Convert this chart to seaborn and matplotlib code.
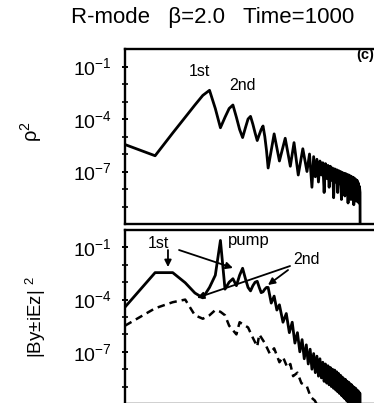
import numpy as np
import pandas as pd
import matplotlib
matplotlib.use("Agg")
import matplotlib.pyplot as plt
import seaborn as sns
from matplotlib.ticker import FixedLocator, NullFormatter

title = "R-mode   \u03b2=2.0   Time=1000"

# density fluctuation spectrum: mode number and log10(rho^2)
rho_k = [1, 2, 3, 4, 5, 6, 7, 8, 9, 10, 11, 12, 13, 14, 15, 16, 17, 18, 19, 20,
         21, 22, 23, 24, 25, 26, 27, 31, 35, 40, 45, 49, 54, 60, 66, 70, 74,
         77, 80, 83, 86, 89, 92, 95, 98, 101, 104, 107, 110, 113, 116, 119, 122,
         125, 128, 131, 134, 137, 140, 143, 146, 149, 152, 155, 158, 161, 164,
         167, 170, 173, 176, 179, 182, 185, 188, 191, 194, 197, 200, 203, 206,
         209, 212, 215, 218, 221, 224, 225]
rho_log = [-5.46, -6.1, -4.8, -3.9, -3.2, -2.65, -2.36, -3.4, -4.5, -3.9, -3.4,
           -3.2, -3.9, -4.6, -5.06, -4.5, -4.0, -3.85, -4.3, -4.8, -5.23, -4.9,
           -4.6, -4.4, -5.0, -5.8, -6.8, -4.85, -6.4, -5.1, -6.7, -5.35, -7.2,
           -5.7, -7.0, -6.0, -7.9,
           -6.15, -7.3, -6.3, -7.6, -6.4, -7.2, -6.5, -8.2, -6.55, -7.4, -6.65,
           -7.9, -6.7, -7.5, -6.8, -8.5, -6.85, -7.6, -6.9, -8.2, -6.95, -7.7,
           -7.0, -8.6, -7.05, -7.8, -7.1, -8.4, -7.12, -7.9, -7.17, -8.8, -7.2,
           -8.0, -7.25, -8.6, -7.3, -8.1, -7.33, -8.9, -7.38, -8.2, -7.45, -8.7,
           -7.5, -8.3, -7.65, -8.8, -7.85, -8.2, -14.0]

# transverse field spectrum |By +/- iEz|^2, two polarisations
fld_k = [1, 2, 3, 4, 5, 6, 7, 8, 9, 10, 11, 12, 13, 14, 15, 16, 17, 18, 19, 20,
         21, 22, 23, 24, 25, 26, 27, 29, 31, 33, 35, 38, 41, 44, 47, 50, 53, 56,
         59, 62, 65, 68, 71, 74, 77, 80, 83, 86, 89, 92, 95, 98, 101, 104, 107,
         110, 113, 116, 119, 122, 125, 128, 131, 134, 137, 140, 143, 146, 149,
         152, 155, 158, 161, 164, 167, 170, 173, 176, 179, 182, 185, 188, 191,
         194, 197, 200, 203, 206, 209, 212, 215, 218, 221, 224, 225]
fld_log = [-4.43, -2.45, -2.45, -3.03, -3.62, -3.9, -3.3, -2.6, -0.6, -3.4, -3.0,
           -2.8, -3.2, -2.6, -2.2, -2.8, -3.3, -3.5, -3.2, -3.0, -2.95, -3.3,
           -3.6, -3.55, -3.4, -3.3, -3.3, -4.2, -3.8, -4.6, -4.3, -5.3, -4.8,
           -5.9, -5.3, -6.5, -5.9, -7.0, -6.3, -7.4, -6.6, -7.7, -6.85, -8.0,
           -7.1, -8.2, -7.25, -8.4, -7.4, -8.5, -7.6, -8.7, -7.7, -8.8, -7.8,
           -8.9, -7.9, -9.0, -8.0, -9.1, -8.05, -9.2, -8.15, -9.3, -8.25, -9.4,
           -8.35, -9.5, -8.45, -9.6, -8.55, -9.7, -8.6, -9.8, -8.7, -9.9, -8.75,
           -10.0, -8.85, -10.1, -8.9, -10.2, -9.0, -10.3, -9.05, -10.4, -9.1,
           -10.5, -9.2, -10.6, -9.25, -10.7, -9.35, -9.4, -14.0]

alt_k = [1, 2, 3, 4, 5, 6, 7, 8, 9, 10, 11, 13, 14, 17, 19, 21, 22, 25, 28, 31,
         35, 38, 42, 45, 48, 53, 58, 66, 72, 79, 88, 100]
alt_log = [-5.5, -4.5, -4.15, -4.0, -4.9, -5.1, -4.9, -4.6, -4.7, -4.9, -5.5,
           -6.0, -5.3, -5.6, -6.2, -6.7, -6.0, -6.5, -7.1, -6.8, -7.6, -7.3,
           -7.9, -7.7, -8.4, -8.2, -8.8, -9.0, -9.6, -9.8, -10.3, -10.8]

rho = pd.DataFrame({"k": rho_k, "power": 10.0 ** np.array(rho_log)})
fld = pd.DataFrame({"k": fld_k, "power": 10.0 ** np.array(fld_log)})
alt = pd.DataFrame({"k": alt_k, "power": 10.0 ** np.array(alt_log)})

sns.set_theme(style="ticks")
plt.rcParams["font.family"] = ["Liberation Sans", "DejaVu Sans"]
plt.rcParams["mathtext.default"] = "regular"
plt.rcParams["axes.linewidth"] = 1.6
for key in ("text.color", "axes.labelcolor", "xtick.color", "ytick.color",
            "axes.edgecolor"):
    plt.rcParams[key] = "black"

W, H = 374, 403
fig = plt.figure(figsize=(W / 100, H / 100), dpi=100)
fig.patch.set_facecolor("white")


def px_axes(left, top, right, bottom):
    return fig.add_axes([left / W, 1 - bottom / H, (right - left) / W, (bottom - top) / H])


ax1 = px_axes(125, 49, 381, 224)
ax2 = px_axes(125, 230, 381, 404)

for ax in (ax1, ax2):
    ax.set_xscale("log")
    ax.set_yscale("log")
    ax.set_xlim(1, 363)
    ax.set_ylim(1e-10, 1)
    ax.yaxis.set_major_locator(FixedLocator([1e-1, 1e-4, 1e-7]))
    ax.yaxis.set_minor_locator(FixedLocator([1e-2, 1e-3, 1e-5, 1e-6, 1e-8, 1e-9]))
    ax.yaxis.set_minor_formatter(NullFormatter())
    ax.tick_params(axis="y", which="major", direction="inout", length=5, width=1.4,
                   labelsize=14, pad=7)
    ax.tick_params(axis="y", which="minor", direction="inout", length=4, width=1.2)
    ax.tick_params(axis="x", which="both", length=0, labelbottom=False)
    for s in ax.spines.values():
        s.set_linewidth(1.7)

sns.lineplot(data=rho, x="k", y="power", ax=ax1, color="black", lw=2.0,
             estimator=None, sort=False)
sns.lineplot(data=fld, x="k", y="power", ax=ax2, color="black", lw=2.0,
             estimator=None, sort=False)
sns.lineplot(data=alt, x="k", y="power", ax=ax2, color="black", lw=1.8,
             estimator=None, sort=False, linestyle=(0, (3.0, 2.0)))

for ax in (ax1, ax2):
    ax.set_xlabel("")
    ax.set_ylabel("")

ax1.set_ylabel("\u03c1$^2$", fontsize=14.5)
ax1.yaxis.set_label_coords(-0.315, 0.53)
ax2.set_ylabel("|By\u00b1iEz| $^2$", fontsize=13.5)
ax2.yaxis.set_label_coords(-0.3, 0.5)

fig.text(213 / W, 1 - 18 / H, title, ha="center", va="center", fontsize=16)

ax1.text(5.5, 10 ** -1.26, "1st", ha="center", va="center", fontsize=11.5)
ax1.text(14.8, 10 ** -2.07, "2nd", ha="center", va="center", fontsize=11.5)
ax1.text(0.937, 0.966, "(c)", transform=ax1.transAxes, ha="center", va="center",
         fontsize=10.5, fontweight="bold")

ax2.text(2.14, 10 ** -0.75, "1st", ha="center", va="center", fontsize=11.5)
ax2.text(10.7, 10 ** -0.63, "pump", ha="left", va="center", fontsize=12)
ax2.text(64.6, 10 ** -1.67, "2nd", ha="center", va="center", fontsize=11.5)

arrow = dict(arrowstyle="-|>", color="black", lw=1.3, mutation_scale=10,
             shrinkA=0, shrinkB=0)
ax2.annotate("", xy=(2.69, 10 ** -2.13), xytext=(2.69, 10 ** -1.15), arrowprops=arrow)
ax2.annotate("", xy=(12.0, 10 ** -2.18), xytext=(3.47, 10 ** -1.15), arrowprops=arrow)
ax2.annotate("", xy=(5.25, 10 ** -3.9), xytext=(44.7, 10 ** -2.07), arrowprops=arrow)
ax2.annotate("", xy=(26.9, 10 ** -3.16), xytext=(42.7, 10 ** -2.3), arrowprops=arrow)

fig.savefig("out.png", dpi=100, facecolor="white")
